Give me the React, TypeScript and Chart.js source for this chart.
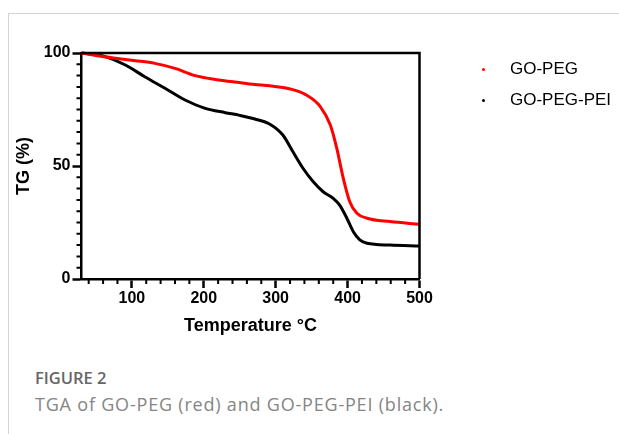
import React, { useEffect, useRef } from "react";
import { Chart, registerables } from "chart.js";

Chart.register(...registerables);

// ---- Data ----
const goPegTemp = [30, 50, 77, 105, 132, 160, 188, 216, 250, 271, 292, 320, 341, 362, 376, 385, 394, 403, 413, 427, 459, 500];
const goPegTG = [100, 98.9, 97.7, 96.6, 95.4, 93.2, 90.0, 88.3, 86.9, 86.1, 85.5, 84.1, 81.7, 76.3, 68.1, 57.8, 44.6, 34.2, 29.1, 26.9, 25.4, 24.2];

const goPegPeiTemp = [30, 50, 63, 91, 118, 146, 174, 202, 230, 250, 271, 292, 310, 324, 338, 352, 366, 380, 389, 399, 408, 417, 427, 459, 500];
const goPegPeiTG = [100, 99.2, 98.4, 94.7, 89.5, 84.4, 79.2, 75.5, 73.6, 72.4, 70.8, 68.5, 63.7, 56.3, 49.0, 43.1, 38.6, 35.7, 32.7, 26.9, 20.9, 17.3, 15.8, 15.0, 14.6];

const seriesNames = ["GO-PEG", "GO-PEG-PEI"];
const seriesColors = ["#ff0000", "#000000"];

const xMajorTicks = [100, 200, 300, 400, 500];
const xMinorTicks = [40, 60, 80, 120, 140, 160, 180, 220, 240, 260, 280, 320, 340, 360, 380, 420, 440, 460, 480];
const yMajorTicks = [0, 50, 100];
const yMinorTicks = [5, 10, 15, 20, 25, 30, 35, 40, 45, 55, 60, 65, 70, 75, 80, 85, 90, 95];

const xTitle = "Temperature °C";
const yTitle = "TG (%)";
const figureLabel = "FIGURE 2";
const figureCaption = "TGA of GO-PEG (red) and GO-PEG-PEI (black).";

const AXIS_FONT = "'Liberation Sans', Arial, Helvetica, sans-serif";

const framePlugin = {
  id: "frameAndMinorTicks",
  afterDraw(chart: any) {
    const { ctx, chartArea, scales } = chart;
    ctx.save();
    ctx.strokeStyle = "#000";
    ctx.lineWidth = 2.5;
    ctx.beginPath();
    ctx.moveTo(chartArea.left, chartArea.top);
    ctx.lineTo(chartArea.right, chartArea.top);
    ctx.lineTo(chartArea.right, chartArea.bottom);
    ctx.stroke();
    ctx.lineWidth = 2;
    const xs = scales.x;
    const ys = scales.y;
    ctx.beginPath();
    xMinorTicks.forEach((v) => {
      const px = xs.getPixelForValue(v);
      ctx.moveTo(px, chartArea.bottom);
      ctx.lineTo(px, chartArea.bottom + 5);
    });
    yMinorTicks.forEach((v) => {
      const py = ys.getPixelForValue(v);
      ctx.moveTo(chartArea.left, py);
      ctx.lineTo(chartArea.left - 5, py);
    });
    ctx.stroke();
    ctx.restore();
  },
};

function TGAChart() {
  const ref = useRef<HTMLCanvasElement | null>(null);
  useEffect(() => {
    if (!ref.current) return;
    const chart = new Chart(ref.current, {
      type: "line",
      data: {
        datasets: [
          {
            label: seriesNames[0],
            data: goPegTemp.map((t, i) => ({ x: t, y: goPegTG[i] })),
            borderColor: seriesColors[0],
            backgroundColor: seriesColors[0],
            borderWidth: 3,
            pointRadius: 0,
            cubicInterpolationMode: "monotone",
            fill: false,
          },
          {
            label: seriesNames[1],
            data: goPegPeiTemp.map((t, i) => ({ x: t, y: goPegPeiTG[i] })),
            borderColor: seriesColors[1],
            backgroundColor: seriesColors[1],
            borderWidth: 3,
            pointRadius: 0,
            cubicInterpolationMode: "monotone",
            fill: false,
          },
        ],
      },
      options: {
        animation: false,
        responsive: false,
        clip: false as any,
        layout: { padding: { left: 0, right: 199.5, top: 53, bottom: 0 } },
        plugins: { legend: { display: false }, tooltip: { enabled: false } },
        scales: {
          x: {
            type: "linear",
            min: 30,
            max: 500,
            afterBuildTicks: (s: any) => {
              s.ticks = xMajorTicks.map((v) => ({ value: v }));
            },
            afterFit: (s: any) => {
              s.height = 71;
            },
            grid: { drawOnChartArea: false, drawTicks: true, tickLength: 9, tickWidth: 2.5, tickColor: "#000" },
            border: { display: true, color: "#000", width: 2.5 },
            ticks: {
              color: "#000",
              padding: 1,
              maxRotation: 0,
              font: { family: AXIS_FONT, size: 16, weight: "bold" },
            },
            title: {
              display: true,
              text: xTitle,
              color: "#000",
              font: { family: AXIS_FONT, size: 18, weight: "bold" },
              padding: { top: 0, bottom: 13 },
            },
          },
          y: {
            type: "linear",
            min: 0,
            max: 100,
            afterBuildTicks: (s: any) => {
              s.ticks = yMajorTicks.map((v) => ({ value: v }));
            },
            afterFit: (s: any) => {
              s.width = 81.5;
            },
            grid: { drawOnChartArea: false, drawTicks: true, tickLength: 9, tickWidth: 2.5, tickColor: "#000" },
            border: { display: true, color: "#000", width: 2.5 },
            ticks: {
              color: "#000",
              padding: 2,
              font: { family: AXIS_FONT, size: 16, weight: "bold" },
            },
            title: {
              display: true,
              text: yTitle,
              color: "#000",
              font: { family: AXIS_FONT, size: 18, weight: "bold" },
              padding: { top: 13, bottom: 0 },
            },
          },
        },
      },
      plugins: [framePlugin],
    } as any);
    return () => chart.destroy();
  }, []);
  return <canvas ref={ref} width={619} height={350} style={{ position: "absolute", left: 0, top: 0, width: 619, height: 350 }} />;
}

export default function App() {
  const legendRows = [69, 100];
  return (
    <div style={{ position: "fixed", left: 0, top: 0, width: 619, height: 434, background: "#fff", overflow: "hidden" }}>
      <div style={{ position: "absolute", left: 8, top: 13, width: 611, height: 1, background: "#d4d4d4" }} />
      <div style={{ position: "absolute", left: 8, top: 13, width: 1, height: 421, background: "#d4d4d4" }} />
      <TGAChart />
      {seriesNames.map((name, i) => (
        <React.Fragment key={name}>
          <div
            style={{
              position: "absolute",
              left: 482,
              top: legendRows[i] - 1.5,
              width: 3,
              height: 3,
              borderRadius: 2,
              background: seriesColors[i],
            }}
          />
          <div
            style={{
              position: "absolute",
              left: 510,
              top: legendRows[i] - 11,
              height: 22,
              lineHeight: "22px",
              fontFamily: AXIS_FONT,
              fontSize: 17,
              color: "#000",
              whiteSpace: "nowrap",
            }}
          >
            {name}
          </div>
        </React.Fragment>
      ))}
      <div
        style={{
          position: "absolute",
          left: 35,
          top: 367,
          lineHeight: "22px",
          fontFamily: "'Open Sans', sans-serif",
          fontSize: 16.5,
          fontWeight: 600,
          color: "#666666",
          whiteSpace: "nowrap",
        }}
      >
        {figureLabel}
      </div>
      <div
        style={{
          position: "absolute",
          left: 35,
          top: 393,
          lineHeight: "22px",
          fontFamily: "'Open Sans', sans-serif",
          fontSize: 18,
          fontWeight: 400,
          letterSpacing: "0.8px",
          color: "#858585",
          whiteSpace: "nowrap",
        }}
      >
        {figureCaption}
      </div>
    </div>
  );
}
